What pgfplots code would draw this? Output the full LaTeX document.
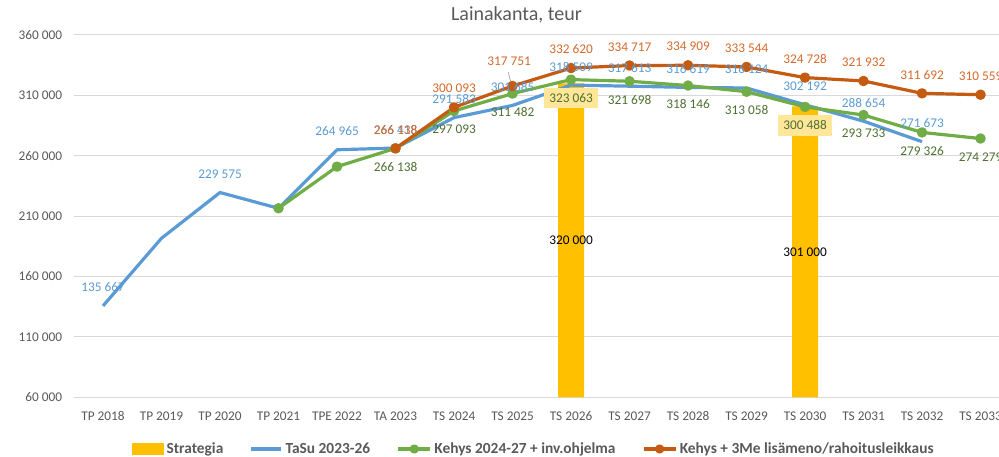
\documentclass[border=0pt]{standalone}
\usepackage{fontspec}
\setmainfont{Carlito}
\usepackage{pgfplots}
\pgfplotsset{compat=1.18}
\definecolor{cblue}{HTML}{5B9BD5}
\definecolor{cgreen}{HTML}{70AD47}
\definecolor{corange}{HTML}{C55A11}
\definecolor{cyellow}{HTML}{FFC000}
\definecolor{lblue}{HTML}{5B9BD5}
\definecolor{lgreen}{HTML}{4E7030}
\definecolor{lorange}{HTML}{D46A2C}
\definecolor{boxyellow}{HTML}{FFE699}
\definecolor{txtgray}{HTML}{595959}
\definecolor{gridgray}{HTML}{D9D9D9}
\newcommand{\lblfont}{\fontsize{13.3bp}{16bp}\selectfont}
\pgfplotsset{
  barlegend/.style={legend image code/.code={\fill[cyellow] (0bp,-5.85bp) rectangle (31.7bp,5.85bp);}},
  linelegend/.style={legend image code/.code={\draw[##1] (0bp,0bp) -- (30bp,0bp);}},
  marklegend/.style={legend image code/.code={\draw[##1, mark repeat=2, mark phase=2, mark size=3bp] plot coordinates {(0bp,0bp) (16bp,0bp) (32bp,0bp)};}},
}
\begin{document}
\begin{tikzpicture}
\useasboundingbox (0,0) rectangle (999bp,457bp);
\begin{axis}[
  at={(73.75bp,59.7bp)}, anchor=south west,
  scale only axis, width=925.25bp, height=362.3bp,
  xmin=-0.5, xmax=15.316, ymin=60000, ymax=360000,
  scaled y ticks=false,
  xtick={0,...,15},
  xticklabels={TP 2018, TP 2019, TP 2020, TP 2021, TPE 2022, TA 2023, TS 2024, TS 2025, TS 2026, TS 2027, TS 2028, TS 2029, TS 2030, TS 2031, TS 2032, TS 2033},
  ytick={60000,110000,160000,210000,260000,310000,360000},
  yticklabels={60 000, 110 000, 160 000, 210 000, 260 000, 310 000, 360 000},
  axis line style={draw=none},
  major tick length=0pt,
  ymajorgrids,
  grid style={draw=gridgray, line width=1bp},
  yticklabel style={font=\lblfont, text=txtgray, inner sep=0pt, anchor=east, xshift=-11.4bp},
  xticklabel style={font=\lblfont, text=txtgray, inner sep=0pt, anchor=base, yshift=-22.7bp},
  title={Lainakanta, teur},
  title style={at={(0.4785,1)}, anchor=base, yshift=9bp, inner sep=0pt, font=\fontsize{20bp}{24bp}\selectfont, text=txtgray},
  legend columns=4,
  legend style={at={(0.4966,-0.1427)}, anchor=center, draw=none, fill=none,
    font=\bfseries\fontsize{15.4bp}{18bp}\selectfont, text=txtgray,
    /tikz/every even column/.append style={column sep=26bp},
    /tikz/every odd column/.append style={column sep=2bp},
    nodes={inner sep=0.5bp}},
  every axis plot/.append style={line join=round},
]
% Bars
\addplot[ybar, bar width=26bp, fill=cyellow, draw=none, barlegend]
  coordinates {(8,320000) (12,301000)};
\addlegendentry{Strategia}
% Blue
\addplot[cblue, line width=3.2bp, mark=none, linelegend]
  coordinates {(0,135667) (1,191700) (2,229575) (3,216500) (4,264965) (5,266418) (6,291583) (7,301685) (8,318509) (9,317613) (10,316619) (11,316124) (12,302192) (13,288654) (14,271673)};
\addlegendentry{TaSu 2023-26}
% Green
\addplot[cgreen, line width=3.2bp, mark=*, mark size=3.6bp, mark options={solid, fill=cgreen, draw=none}, marklegend]
  coordinates {(3,216500) (4,251000) (5,266138) (6,297093) (7,311482) (8,323063) (9,321698) (10,318146) (11,313058) (12,300488) (13,293733) (14,279326) (15,274279)};
\addlegendentry{Kehys 2024-27 + inv.ohjelma}
% Orange
\addplot[corange, line width=3.2bp, mark=*, mark size=3.6bp, mark options={solid, fill=corange, draw=none}, marklegend]
  coordinates {(5,266138) (6,300093) (7,317751) (8,332620) (9,334717) (10,334909) (11,333544) (12,324728) (13,321932) (14,311692) (15,310559)};
\addlegendentry{Kehys + 3Me lisämeno/rahoitusleikkaus}
% Bar labels
\addplot[draw=none, mark=none, forget plot, nodes near coords, point meta=explicit symbolic,
  every node near coord/.append style={font=\lblfont, text=black, anchor=center, inner sep=0pt}]
  coordinates {(8,190000) [320~000] (12,180500) [301~000]};
% Blue labels
\addplot[draw=none, mark=none, forget plot, nodes near coords, point meta=explicit symbolic,
  every node near coord/.append style={font=\lblfont, text=lblue, anchor=center, inner sep=0pt, yshift=18.5bp}]
  coordinates {(0,135667) [135~667] (2,229575) [229~575] (4,264965) [264~965] (5,266418) [266~418] (6,291583) [291~583] (7,301685) [301~685] (8,318509) [318~509] (9,317613) [317~613] (10,316619) [316~619] (11,316124) [316~124] (12,302192) [302~192] (13,288654) [288~654] (14,271673) [271~673]};
% Green labels
\addplot[draw=none, mark=none, forget plot, nodes near coords, point meta=explicit symbolic,
  every node near coord/.append style={font=\lblfont, text=lgreen, anchor=center, inner sep=0pt, yshift=-18.5bp}]
  coordinates {(5,266138) [266~138] (6,297093) [297~093] (7,311482) [311~482] (9,321698) [321~698] (10,318146) [318~146] (11,313058) [313~058] (13,293733) [293~733] (14,279326) [279~326] (15,274279) [274~279]};
\addplot[draw=none, mark=none, forget plot, nodes near coords, point meta=explicit symbolic,
  every node near coord/.append style={font=\lblfont, text=lgreen, anchor=center, fill=boxyellow, inner xsep=5bp, inner ysep=5.8bp, yshift=-18.5bp}]
  coordinates {(8,323063) [323~063] (12,300488) [300~488]};
% Orange labels
\addplot[draw=none, mark=none, forget plot, nodes near coords, point meta=explicit symbolic,
  every node near coord/.append style={font=\lblfont, text=lorange, anchor=center, inner sep=0pt, yshift=18.7bp}]
  coordinates {(5,266138) [266~138] (6,300093) [300~093] (8,332620) [332~620] (9,334717) [334~717] (10,334909) [334~909] (11,333544) [333~544] (12,324728) [324~728] (13,321932) [321~932] (14,311692) [311~692] (15,310559) [310~559]};
\addplot[draw=none, mark=none, forget plot, nodes near coords, point meta=explicit symbolic,
  every node near coord/.append style={font=\lblfont, text=lorange, anchor=center, inner sep=0pt, xshift=-3.5bp, yshift=25bp}]
  coordinates {(7,317751) [317~751]};
\draw[color=gray!70, line width=0.8bp] (axis cs:6.928,329129) -- (axis cs:6.969,321345);
\end{axis}
\end{tikzpicture}
\end{document}
